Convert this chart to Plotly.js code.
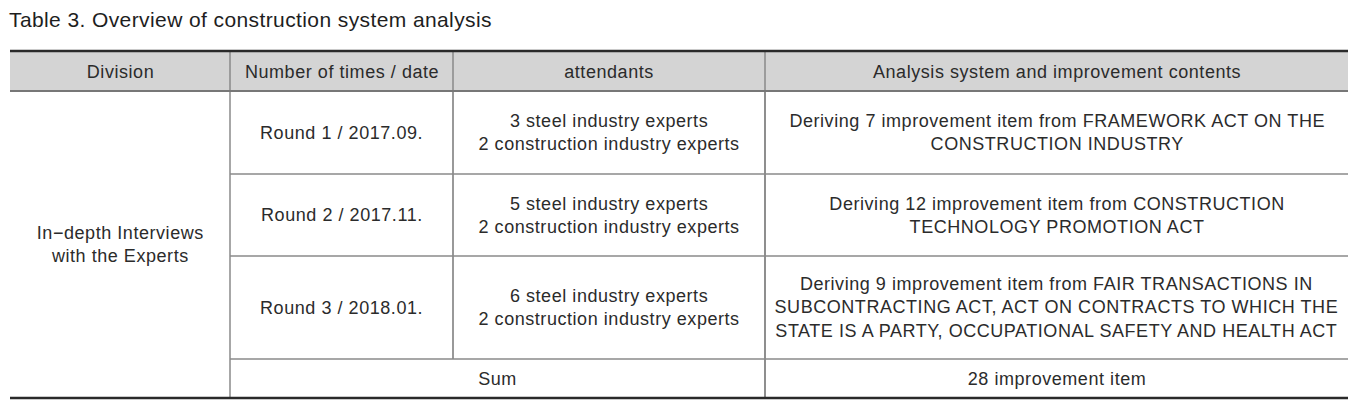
<!DOCTYPE html>
<html>
<head>
<meta charset="utf-8">
<script src="https://cdn.plot.ly/plotly-3.0.1.min.js"></script>
<style>
html,body{margin:0;padding:0;background:#fff;}
#chart{width:1368px;height:402px;}
#chart text.annotation-text{letter-spacing:0.55px;}
#chart .annotation[data-index="0"] text.annotation-text{letter-spacing:0.4px;}
</style>
</head>
<body>
<div id="chart"></div>
<script>
// ---- data ----
var tableTitle = "Table 3. Overview of construction system analysis";
var headers = ["Division", "Number of times / date", "attendants", "Analysis system and improvement contents"];
var division = "In\u2212depth Interviews<br>with the Experts";
var rounds = ["Round 1 / 2017.09.", "Round 2 / 2017.11.", "Round 3 / 2018.01."];
var attendants = [
  "3 steel industry experts<br>2 construction industry experts",
  "5 steel industry experts<br>2 construction industry experts",
  "6 steel industry experts<br>2 construction industry experts"
];
var contents = [
  "Deriving 7 improvement item from FRAMEWORK ACT ON THE<br>CONSTRUCTION INDUSTRY",
  "Deriving 12 improvement item from CONSTRUCTION<br>TECHNOLOGY PROMOTION ACT",
  "Deriving 9 improvement item from FAIR TRANSACTIONS IN<br>SUBCONTRACTING ACT, ACT ON CONTRACTS TO WHICH THE<br>STATE IS A PARTY, OCCUPATIONAL SAFETY AND HEALTH ACT"
];
var sumLabel = "Sum";
var sumValue = "28 improvement item";

// ---- layout geometry ----
var colX = [10, 230, 453, 765, 1348];
var yTop = 51, yHead = 91;
var rowY = [91, 174, 256, 359, 398];

var FONT = "Liberation Sans, Arial, sans-serif";
var TXT = "#2b2b2b";
var shapes = [];
var ann = [];

function line(x0, y0, x1, y1, color, w) {
  shapes.push({type: "line", xref: "x", yref: "y", x0: x0, y0: y0, x1: x1, y1: y1,
    line: {color: color, width: w}});
}
function text(x, y, t, size) {
  ann.push({xref: "x", yref: "y", x: x, y: y, text: t, showarrow: false,
    xanchor: "center", yanchor: "middle", align: "center",
    font: {family: FONT, size: size || 18, color: TXT}});
}

// title (index 0)
ann.push({xref: "x", yref: "y", x: 7, y: 19, text: tableTitle, showarrow: false,
  xanchor: "left", yanchor: "middle", align: "left", font: {family: FONT, size: 21, color: "#1e1e1e"}});

// header background
shapes.push({type: "rect", xref: "x", yref: "y", x0: colX[0], x1: colX[4], y0: yTop, y1: yHead,
  fillcolor: "#d4d4d4", line: {width: 0}, layer: "below"});

// header text
for (var i = 0; i < headers.length; i++) {
  text((colX[i] + colX[i + 1]) / 2, (yTop + yHead) / 2 + 1, headers[i]);
}
// division merged cell
text((colX[0] + colX[1]) / 2, (yHead + rowY[4]) / 2, division);
// rounds
for (var r = 0; r < rounds.length; r++) {
  var cy = (rowY[r] + rowY[r + 1]) / 2;
  text((colX[1] + colX[2]) / 2, cy, rounds[r]);
  text((colX[2] + colX[3]) / 2, cy, attendants[r]);
  text((colX[3] + colX[4]) / 2, cy, contents[r]);
}
// sum row
var sy = (rowY[3] + rowY[4]) / 2;
text((colX[1] + colX[3]) / 2, sy, sumLabel);
text((colX[3] + colX[4]) / 2, sy, sumValue);

// lines
line(colX[1], yTop, colX[1], rowY[4], "#8a8a8a", 1.5);
line(colX[2], yTop, colX[2], yHead, "#8a8a8a", 1.5);
line(colX[2], yHead, colX[2], rowY[3], "#555", 1.2);
line(colX[3], yTop, colX[3], yHead, "#8a8a8a", 1.5);
line(colX[3], yHead, colX[3], rowY[4], "#444", 1.2);
for (var k = 1; k <= 3; k++) line(colX[1], rowY[k], colX[4], rowY[k], "#8a8a8a", 1.5);
line(colX[0], yHead, colX[4], yHead, "#777", 2);
line(colX[0], yTop, colX[4], yTop, "#2a2a2a", 2.5);
line(colX[0], rowY[4], colX[4], rowY[4], "#2a2a2a", 2.5);

var layout = {
  width: 1368, height: 402,
  margin: {l: 0, r: 0, t: 0, b: 0},
  paper_bgcolor: "#fff", plot_bgcolor: "#fff",
  xaxis: {range: [0, 1368], visible: false, fixedrange: true},
  yaxis: {range: [402, 0], visible: false, fixedrange: true},
  shapes: shapes, annotations: ann, showlegend: false
};
Plotly.newPlot("chart", [{x: [], y: [], type: "scatter"}], layout, {displayModeBar: false, staticPlot: true});
</script>
</body>
</html>
